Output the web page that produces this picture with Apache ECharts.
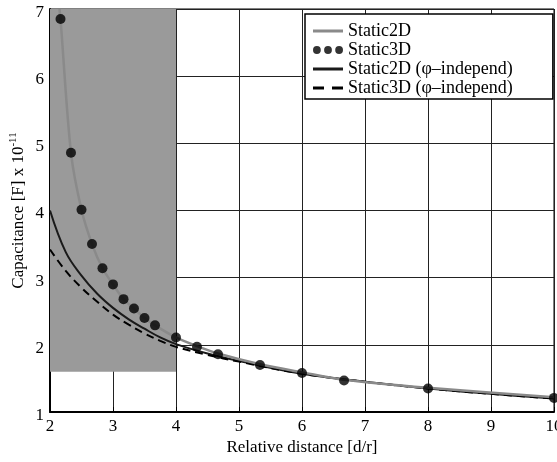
<!DOCTYPE html>
<html>
<head>
<meta charset="utf-8">
<script src="https://cdn.jsdelivr.net/npm/echarts@6/dist/echarts.min.js"></script>
<style>
  html, body { margin: 0; padding: 0; background: #fff; }
  #chart { width: 557px; height: 462px; }
</style>
</head>
<body>
<div id="chart"></div>
<script>
// Static3D markers
const static3dX = [2.167, 2.333, 2.5, 2.667, 2.833, 3.0, 3.167, 3.333, 3.5, 3.667, 4.0, 4.333, 4.667, 5.333, 6.0, 6.667, 8.0, 10.0];
const static3dY = [6.85, 4.86, 4.01, 3.50, 3.14, 2.90, 2.68, 2.54, 2.40, 2.29, 2.11, 1.97, 1.86, 1.70, 1.58, 1.47, 1.35, 1.21];
// Static2D grey curve
const static2dX = [2.15, 2.167, 2.333, 2.5, 2.667, 2.833, 3.0, 3.167, 3.333, 3.5, 3.667, 4.0, 4.333, 4.667, 5.333, 6.0, 6.667, 8.0, 10.0];
const static2dY = [7.0, 6.85, 4.86, 4.01, 3.50, 3.14, 2.90, 2.68, 2.54, 2.40, 2.29, 2.11, 1.98, 1.87, 1.71, 1.59, 1.48, 1.36, 1.22];
// phi-independent curves
const indepX = [2, 2.25, 2.5, 2.75, 3, 3.25, 3.5, 3.75, 4, 4.5, 5, 6, 7, 8, 9, 10];
const indep2dY = [4.0, 3.38, 3.03, 2.76, 2.55, 2.38, 2.24, 2.11, 2.01, 1.87, 1.76, 1.57, 1.45, 1.35, 1.27, 1.20];
const indep3dY = [3.42, 3.10, 2.85, 2.64, 2.45, 2.30, 2.17, 2.06, 1.97, 1.85, 1.75, 1.57, 1.45, 1.35, 1.27, 1.20];
// grey shaded region
const shadeX = [2, 4];
const shadeY = [1.6, 7];

const font = 'Liberation Serif';
const zip = (xs, ys) => xs.map((x, i) => [x, ys[i]]);

// legend icons (corner specks keep the box 30x8 so nothing gets stretched)
const specks = 'M0,0h0.01v0.01h-0.01zM29.99,7.99h0.01v0.01h-0.01z';
const iconLine = 'path://' + specks + 'M0,2.6h30v2.8h-30z';
const iconDots = 'path://' + specks +
  'M0,4a3.9,3.9 0 1,0 7.8,0a3.9,3.9 0 1,0 -7.8,0z' +
  'M11.1,4a3.9,3.9 0 1,0 7.8,0a3.9,3.9 0 1,0 -7.8,0z' +
  'M22.2,4a3.9,3.9 0 1,0 7.8,0a3.9,3.9 0 1,0 -7.8,0z';
const iconDash = 'path://' + specks + 'M0,2.6h11v2.8h-11zM19,2.6h11v2.8h-11z';

const chart = echarts.init(document.getElementById('chart'));
chart.setOption({
  animation: false,
  backgroundColor: '#fff',
  grid: {
    left: 50, right: 3, top: 9, bottom: 50,
    containLabel: false, outerBoundsMode: 'none',
    show: true, borderColor: '#000', borderWidth: 1
  },
  legend: {
    orient: 'vertical',
    left: 305,
    top: 14,
    selectedMode: false,
    backgroundColor: '#fff',
    borderColor: '#000',
    borderWidth: 1.5,
    padding: [8, 40, 2, 8],
    itemGap: 1,
    itemWidth: 30,
    itemHeight: 8,
    itemStyle: { borderWidth: 0 },
    textStyle: { fontFamily: font, fontSize: 18, color: '#000' },
    data: [
      { name: 'Static2D', icon: iconLine },
      { name: 'Static3D', icon: iconDots },
      { name: 'Static2D (φ–independ)', icon: iconLine },
      { name: 'Static3D (φ–independ)', icon: iconDash }
    ]
  },
  xAxis: {
    type: 'value',
    min: 2, max: 10, interval: 1,
    name: 'Relative distance [d/r]',
    nameLocation: 'middle',
    nameGap: 27,
    nameMoveOverlap: false,
    nameTextStyle: { fontFamily: font, fontSize: 17, color: '#000' },
    axisLine: { lineStyle: { color: '#000', width: 2 } },
    axisTick: { inside: true, length: 5, lineStyle: { color: '#000' } },
    axisLabel: { fontFamily: font, fontSize: 17, color: '#000', margin: 6 },
    splitLine: { show: true, lineStyle: { color: '#222', width: 1 } }
  },
  yAxis: {
    type: 'value',
    min: 1, max: 7, interval: 1,
    name: 'Capacitance [F] x 10{sup|-11}',
    nameLocation: 'middle',
    nameGap: 20,
    nameMoveOverlap: false,
    nameTextStyle: {
      fontFamily: font, fontSize: 17, color: '#000', lineHeight: 22,
      rich: { sup: { fontFamily: font, fontSize: 11, lineHeight: 11, verticalAlign: 'top', color: '#000' } }
    },
    axisLine: { lineStyle: { color: '#000', width: 2 } },
    axisTick: { inside: true, length: 5, lineStyle: { color: '#000' } },
    axisLabel: {
      color: '#000', margin: 6,
      formatter: v => '{t|' + v + '}',
      rich: { t: { fontFamily: font, fontSize: 17, color: '#000', padding: [7, 0, 0, 0] } }
    },
    splitLine: { show: true, lineStyle: { color: '#222', width: 1 } }
  },
  series: [
    {
      name: 'Static2D',
      type: 'line',
      data: zip(static2dX, static2dY),
      smooth: 0.3,
      showSymbol: false,
      color: '#8a8a8a',
      lineStyle: { color: '#8a8a8a', width: 2.5 },
      z: 4,
      markArea: {
        silent: true,
        itemStyle: { color: '#9a9a9a', opacity: 1 },
        data: [[{ coord: [shadeX[0], shadeY[0]] }, { coord: [shadeX[1], shadeY[1]] }]]
      }
    },
    {
      name: 'Static3D',
      type: 'scatter',
      data: zip(static3dX, static3dY),
      symbol: 'circle',
      symbolSize: 10,
      color: '#000',
      itemStyle: { color: '#000' },
      z: 5
    },
    {
      name: 'Static2D (φ–independ)',
      type: 'line',
      data: zip(indepX, indep2dY),
      smooth: 0.4,
      showSymbol: false,
      color: '#1a1a1a',
      lineStyle: { color: '#1a1a1a', width: 2 },
      z: 3
    },
    {
      name: 'Static3D (φ–independ)',
      type: 'line',
      data: zip(indepX, indep3dY),
      smooth: 0.4,
      showSymbol: false,
      color: '#000',
      lineStyle: { color: '#000', width: 2, type: [8, 5] },
      z: 3
    }
  ]
});
window.addEventListener('resize', () => chart.resize());
</script>
</body>
</html>
